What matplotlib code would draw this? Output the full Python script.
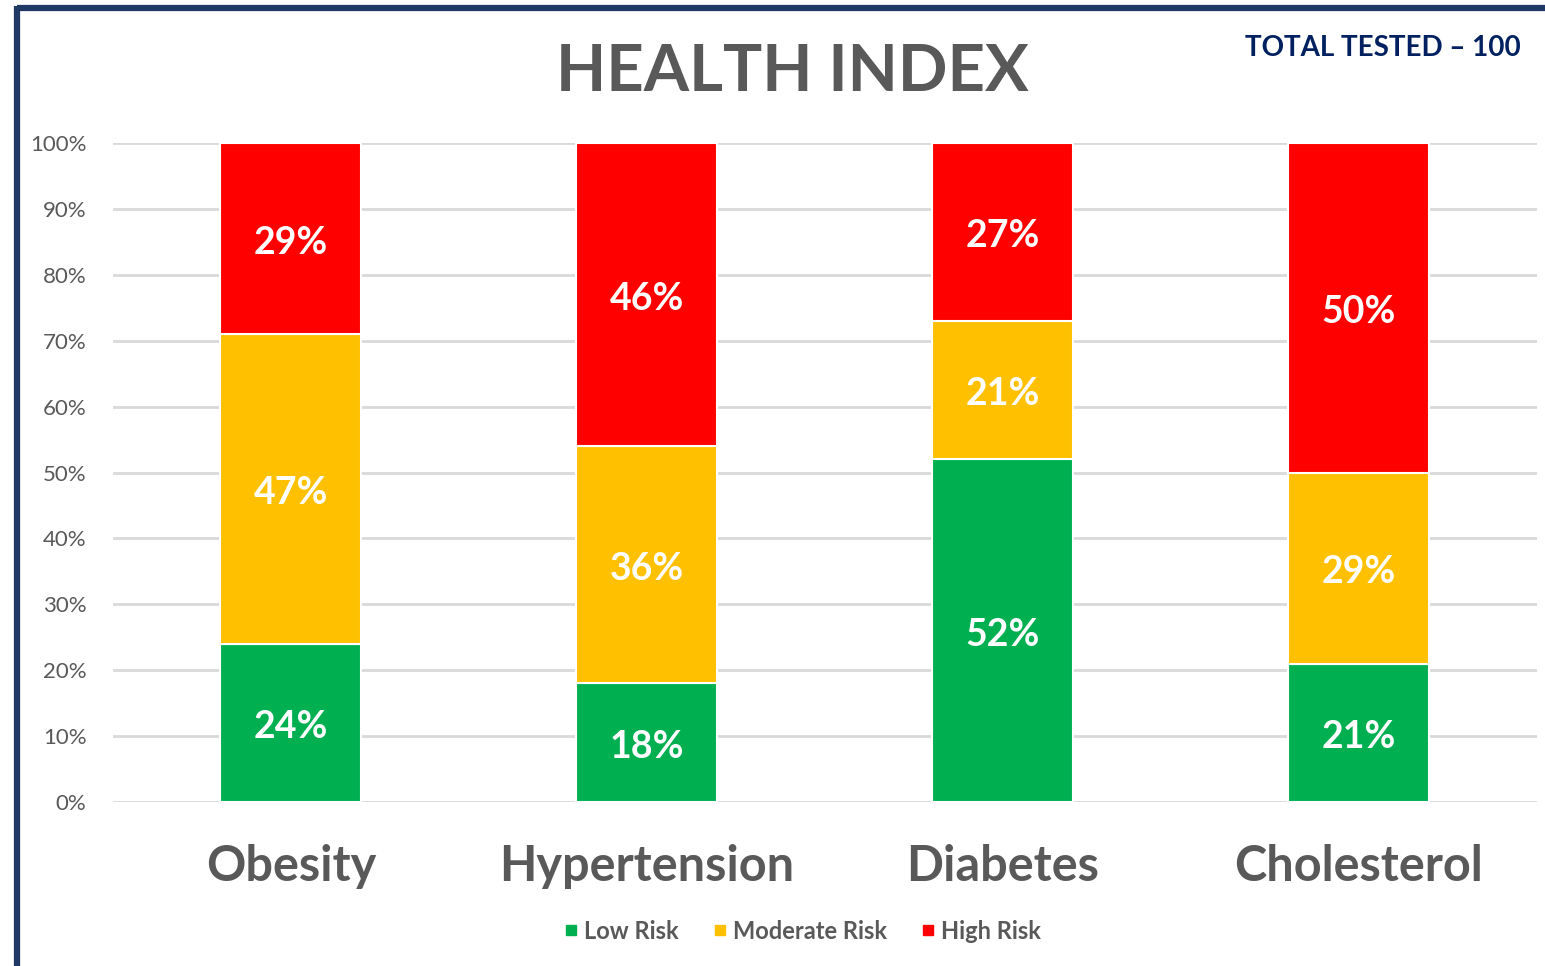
import numpy as np
import matplotlib
matplotlib.use("Agg")
import matplotlib.pyplot as plt
from matplotlib.lines import Line2D

# ---------------------------- Chart data ---------------------------- #
categories = ["Obesity", "Hypertension", "Diabetes", "Cholesterol"]
lowRisk = [24, 18, 52, 21]
moderateRisk = [47, 36, 21, 29]
highRisk = [29, 46, 27, 50]
seriesNames = ["Low Risk", "Moderate Risk", "High Risk"]
yTicks = [0, 10, 20, 30, 40, 50, 60, 70, 80, 90, 100]

# ---------------------------- Styling ---------------------------- #
seriesColors = ["#00B050", "#FFC000", "#FF0000"]
textGray = "#595959"
navy = "#1F3864"
plt.rcParams['font.family'] = ['Lato', 'DejaVu Sans']

fig = plt.figure(figsize=(15.45, 9.66), dpi=100)
ax = fig.add_axes([0.0731, 0.1698, 0.9217, 0.682])

xPos = np.arange(len(categories))
barWidth = 0.396
bottoms = np.zeros(len(categories))
for values, color, name in zip([lowRisk, moderateRisk, highRisk], seriesColors, seriesNames):
    bars = ax.bar(xPos, values, barWidth, bottom=bottoms, color=color,
                  edgecolor="white", linewidth=1.5, label=name, zorder=3)
    for bar, val, bot in zip(bars, values, bottoms):
        # Label each segment in its middle
        ax.text(bar.get_x() + bar.get_width()/2, bot + val/2 - 0.6, f"{val}%",
                ha="center", va="center", color="white", fontsize=27,
                fontweight="bold", zorder=4)
    bottoms += np.array(values)

ax.set_xlim(-0.5, 3.5)
ax.set_ylim(0, 100)
ax.set_yticks(yTicks)
ax.set_yticklabels([f"{t}%" for t in yTicks], fontsize=16, color=textGray)
ax.set_xticks(xPos)
ax.set_xticklabels(categories, fontsize=35, fontweight="bold", color=textGray)
ax.tick_params(axis="y", length=0, pad=19)
ax.tick_params(axis="x", length=0, pad=30)
ax.yaxis.grid(True, color="#D9D9D9", linewidth=2, zorder=0)
ax.set_axisbelow(True)
for spine in ax.spines.values():
    spine.set_visible(False)

# Titles
fig.text(0.5128, 0.925, "HEALTH INDEX", ha="center", va="center",
         fontsize=47, fontweight="bold", color=textGray)
fig.text(0.984, 0.950, "TOTAL TESTED \u2013 100", ha="right", va="center",
         fontsize=20, fontweight="bold", color="#002060")

# Legend
handles = [Line2D([], [], marker="s", linestyle="none", markersize=7,
                  markerfacecolor=c, markeredgecolor=c) for c in seriesColors]
fig.legend(handles, seriesNames, loc="center", bbox_to_anchor=(0.516, 0.036),
           ncol=3, frameon=False, handletextpad=-0.2, columnspacing=1.0,
           handlelength=1.5, prop={"size": 17, "weight": "bold"}, labelcolor=textGray)

# Frame lines
fig.add_artist(Line2D([0.0107, 1.0], [0.9915, 0.9915], color=navy, linewidth=4.5,
                      transform=fig.transFigure, solid_capstyle="butt"))
fig.add_artist(Line2D([0.0107, 0.0107], [0.0, 0.9938], color=navy, linewidth=4.5,
                      transform=fig.transFigure, solid_capstyle="butt"))

fig.savefig("out.png", dpi=100)
